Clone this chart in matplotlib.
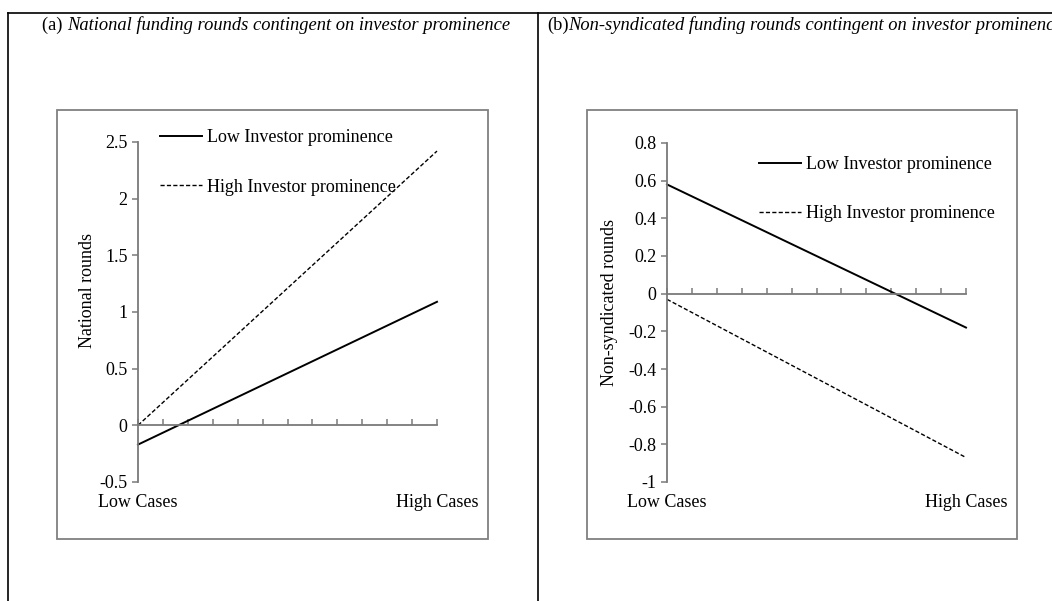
import matplotlib
matplotlib.use("Agg")
import matplotlib.pyplot as plt
from matplotlib.lines import Line2D
from matplotlib.patches import Rectangle
import numpy as np

# simple slopes: predicted rounds at low / high cases
case_labels = ["Low Cases", "High Cases"]
n_steps = 12
case_pos = [0, n_steps]

series_labels = ["Low Investor prominence", "High Investor prominence"]

national_low = [-0.17, 1.09]
national_high = [0.0, 2.42]

nonsynd_low = [0.58, -0.18]
nonsynd_high = [-0.03, -0.87]

national_ticks = [-0.5, 0, 0.5, 1, 1.5, 2, 2.5]
nonsynd_ticks = [-1, -0.8, -0.6, -0.4, -0.2, 0, 0.2, 0.4, 0.6, 0.8]

W, H = 1052, 601
plt.rcParams['font.family'] = ['Liberation Serif', 'DejaVu Serif']
FS = 13
AXIS_GREY = '#7a7a7a'


def px_rect(left, top, right, bottom):
    return [left / W, 1 - bottom / H, (right - left) / W, (bottom - top) / H]


def fig_line(fig, x0, y0, x1, y1, **kw):
    fig.add_artist(Line2D([x0 / W, x1 / W], [1 - y0 / H, 1 - y1 / H],
                          transform=fig.transFigure, **kw))


def draw_panel(fig, rect, low, high, ticks, ylabel, ylabel_xy, legend_xy):
    ax = fig.add_axes(px_rect(*rect))
    ax.set_facecolor('none')
    l1, = ax.plot(case_pos, low, color='black', lw=1.4, clip_on=False,
                  label=series_labels[0])
    l2, = ax.plot(case_pos, high, color='black', lw=1.0, clip_on=False,
                  dashes=(3, 1.6), label=series_labels[1])
    ax.set_xlim(0, n_steps)
    ax.set_ylim(ticks[0], ticks[-1])

    for s in ['top', 'right']:
        ax.spines[s].set_visible(False)
    ax.spines['bottom'].set_position(('data', 0))
    for s in ['left', 'bottom']:
        ax.spines[s].set_color(AXIS_GREY)
        ax.spines[s].set_linewidth(1.3)

    ax.set_yticks(ticks)
    ax.set_yticklabels([f"{t:g}" for t in ticks])
    ax.set_xticks(np.arange(n_steps + 1))
    ax.set_xticklabels([])
    ax.tick_params(axis='y', direction='out', length=4, width=1.1,
                   color=AXIS_GREY, pad=3.5, labelsize=FS)
    ax.tick_params(axis='x', direction='in', length=4, width=1.1,
                   color=AXIS_GREY)

    for pos, lab in zip(case_pos, case_labels):
        ax.annotate(lab, xy=(pos, 0), xycoords=('data', 'axes fraction'),
                    xytext=(0, -15), textcoords='offset points',
                    ha='center', va='center', fontsize=FS)

    fig.text(ylabel_xy[0] / W, 1 - ylabel_xy[1] / H, ylabel, rotation=90,
             ha='center', va='center', fontsize=FS)

    ax.legend(handles=[l1, l2], loc='upper left', frameon=False,
              bbox_to_anchor=(legend_xy[0] / W, 1 - legend_xy[1] / H),
              bbox_transform=fig.transFigure, borderpad=0, borderaxespad=0,
              handlelength=2.3, handletextpad=0.3, labelspacing=1.8,
              fontsize=FS)
    return ax


fig = plt.figure(figsize=(W / 100, H / 100), dpi=100)

# table frame around the two panels
fig_line(fig, 8, 13, W, 13, color='black', lw=1.2)
fig_line(fig, 8, 13, 8, H, color='black', lw=1.2)
fig_line(fig, 538, 13, 538, H, color='black', lw=1.2)

# chart area boxes
for l, t, r, b in [(57, 110, 488, 539), (587, 110, 1017, 539)]:
    fig.add_artist(Rectangle((l / W, 1 - b / H), (r - l) / W, (b - t) / H,
                             transform=fig.transFigure, fill=False,
                             edgecolor='#808080', lw=1.3))

draw_panel(fig, (138, 142, 437, 482), national_low, national_high,
           national_ticks, "National rounds", (88, 291), (160, 129))
draw_panel(fig, (667, 143, 966, 482), nonsynd_low, nonsynd_high,
           nonsynd_ticks, "Non-syndicated rounds", (609, 302), (759, 156))

# panel captions: regular letter, italic description
t1 = fig.text(42 / W, 1 - 25 / H, "(a) ", fontsize=13.3, va='center')
plt.annotate("National funding rounds contingent on investor prominence",
             xy=(1, 0), xycoords=t1, va='bottom', ha='left', fontsize=13.3,
             style='italic')
t2 = fig.text(547 / W, 1 - 25 / H, "(b)", fontsize=13.3, va='center')
plt.annotate("Non-syndicated funding rounds contingent on investor prominence",
             xy=(1, 0), xycoords=t2, va='bottom', ha='left', fontsize=13.3,
             style='italic', annotation_clip=False)

fig.savefig("out.png", dpi=100)
